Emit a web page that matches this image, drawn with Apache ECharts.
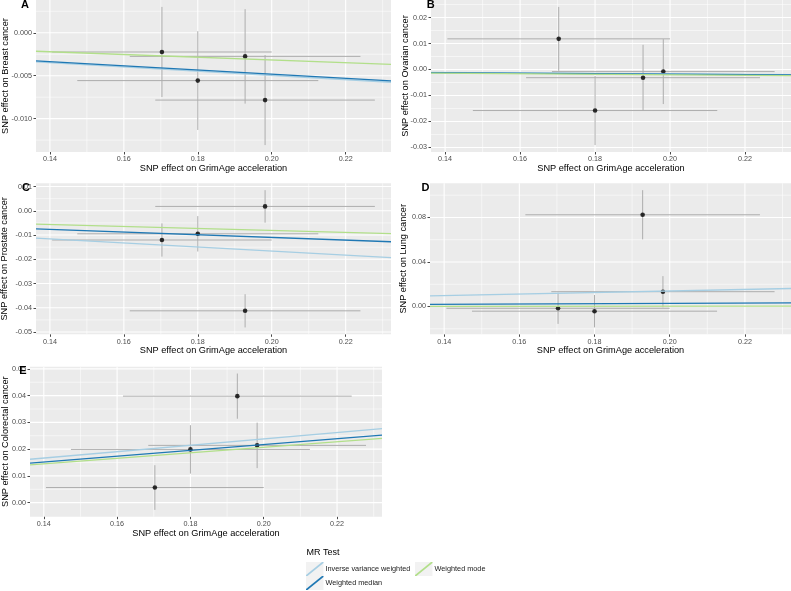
<!DOCTYPE html>
<html><head><meta charset="utf-8">
<script src="https://cdn.jsdelivr.net/npm/echarts@6/dist/echarts.min.js"></script>
<style>html,body{margin:0;padding:0;background:#fff}#c{width:791px;height:591px}</style>
</head><body><div id="c"></div>
<script>
// ---- data ----
const methods = ['Inverse variance weighted', 'Weighted median', 'Weighted mode'];
const snpGrimAge = [0.1703, 0.1800, 0.1928, 0.1982];
const snpGrimAgeSe = [0.0297, 0.0326, 0.0312, 0.0297];

const breastBeta = [-0.00224, -0.00557, -0.00275, -0.00784];
const breastSe = [0.00525, 0.00575, 0.00550, 0.00524];
const breastSlopes = [-0.0248, -0.0241, -0.0158];

const ovarianBeta = [0.0118, -0.0158, -0.00315, -0.0008];
const ovarianSe = [0.0123, 0.0133, 0.01265, 0.0125];
const ovarianSlopes = [-0.0085, -0.0090, -0.0100];

const prostateBeta = [-0.01205, -0.0095, -0.04125, 0.0018];
const prostateSe = [0.00685, 0.0073, 0.00685, 0.0067];
const prostateSlopes = [-0.083, -0.055, -0.0405];

const lungBeta = [-0.0016, -0.0042, 0.0824, 0.0133];
const lungSe = [0.0140, 0.0146, 0.0221, 0.0140];
const lungSlopes = [0.0697, 0.0137, 0.0012];

const colorectalBeta = [0.00565, 0.0199, 0.0398, 0.0214];
const colorectalSe = [0.00835, 0.00905, 0.00845, 0.0085];
const colorectalSlopes = [0.119, 0.1085, 0.1035];

// tick labels
const xTicks = [0.14, 0.16, 0.18, 0.20, 0.22];
const xMinor = [0.15, 0.17, 0.19, 0.21, 0.23];
const breastTicks = [-0.010, -0.005, 0.000];
const breastMinor = [-0.0125, -0.0075, -0.0025, 0.0025];
const ovarianTicks = [-0.03, -0.02, -0.01, 0.00, 0.01, 0.02];
const ovarianMinor = [-0.025, -0.015, -0.005, 0.005, 0.015, 0.025];
const prostateTicks = [-0.05, -0.04, -0.03, -0.02, -0.01, 0.00, 0.01];
const prostateMinor = [-0.045, -0.035, -0.025, -0.015, -0.005, 0.005];
const lungTicks = [0.00, 0.04, 0.08];
const lungMinor = [-0.02, 0.02, 0.06, 0.10];
const colorectalTicks = [0.00, 0.01, 0.02, 0.03, 0.04, 0.05];
const colorectalMinor = [0.005, 0.015, 0.025, 0.035, 0.045];

// ---- styles / layout ----
const methodColors = ['#a6cee3', '#1f78b4', '#b2df8a'];
const FONT = 'Liberation Sans, Arial, Helvetica, sans-serif';
const panels = [
  {label:'A', outcome:'Breast cancer', beta:breastBeta, se:breastSe, slopes:breastSlopes, ticks:breastTicks, minor:breastMinor, dec:3},
  {label:'B', outcome:'Ovarian cancer', beta:ovarianBeta, se:ovarianSe, slopes:ovarianSlopes, ticks:ovarianTicks, minor:ovarianMinor, dec:2},
  {label:'C', outcome:'Prostate cancer', beta:prostateBeta, se:prostateSe, slopes:prostateSlopes, ticks:prostateTicks, minor:prostateMinor, dec:2},
  {label:'D', outcome:'Lung cancer', beta:lungBeta, se:lungSe, slopes:lungSlopes, ticks:lungTicks, minor:lungMinor, dec:2},
  {label:'E', outcome:'Colorectal cancer', beta:colorectalBeta, se:colorectalSe, slopes:colorectalSlopes, ticks:colorectalTicks, minor:colorectalMinor, dec:2}
];
const layout = [
  {left:36, top:0, width:355, height:152, nameGap:26, lx:25, ly:5.3},
  {left:431, top:0, width:360, height:152, nameGap:21.5, lx:430.7, ly:4.5},
  {left:36, top:183.3, width:355, height:151, nameGap:27, lx:26, ly:188},
  {left:430, top:183.3, width:361, height:151, nameGap:22, lx:425.5, ly:187.5},
  {left:30, top:366.7, width:352, height:150, nameGap:20, lx:23, ly:370.8}
];

function expandRange(lo, hi) {
  const mn = Math.min.apply(null, lo), mx = Math.max.apply(null, hi);
  const pad = (mx - mn) * 0.05;
  return [mn - pad, mx + pad];
}

function errRender(params, api) {
  const x = api.value(0), y = api.value(1), xs = api.value(2), ys = api.value(3);
  const v1 = api.coord([x, y - ys]), v2 = api.coord([x, y + ys]);
  const h1 = api.coord([x - xs, y]), h2 = api.coord([x + xs, y]);
  const style = {stroke:'#ADADAD', lineWidth:1};
  return {type:'group', children:[
    {type:'line', shape:{x1:v1[0], y1:v1[1], x2:v2[0], y2:v2[1]}, style:style},
    {type:'line', shape:{x1:h1[0], y1:h1[1], x2:h2[0], y2:h2[1]}, style:style}
  ]};
}

// gridline segments (broken with empty points)
function gridSegments(xVals, yVals, xr, yr) {
  const d = [];
  yVals.forEach(t => { d.push([xr[0], t], [xr[1], t], ['-', '-']); });
  xVals.forEach(t => { d.push([t, yr[0]], [t, yr[1]], ['-', '-']); });
  return d;
}

const grids = [], xAxes = [], yAxes = [], series = [], graphics = [];
const xr = expandRange(snpGrimAge.map((v,k)=>v - snpGrimAgeSe[k]), snpGrimAge.map((v,k)=>v + snpGrimAgeSe[k]));

panels.forEach((p, i) => {
  const L = layout[i];
  const yr = expandRange(p.beta.map((v,k)=>v - p.se[k]), p.beta.map((v,k)=>v + p.se[k]));
  grids.push({left:L.left, top:L.top, width:L.width, height:L.height, show:true,
    backgroundColor:'#EBEBEB', borderWidth:0, containLabel:false, outerBoundsMode:'none'});
  const common = {
    type:'value', gridIndex:i, nameLocation:'middle', nameMoveOverlap:false,
    nameTextStyle:{fontFamily:FONT, fontSize:9.2, color:'#000'},
    axisLine:{show:false, onZero:false},
    splitLine:{show:false}
  };
  xAxes.push(Object.assign({}, common, {
    min:xr[0], max:xr[1], name:'SNP effect on GrimAge acceleration', nameGap:12,
    axisTick:{show:true, length:2.5, customValues:xTicks, lineStyle:{color:'#333333', width:0.9}},
    axisLabel:{customValues:xTicks, formatter:v=>v.toFixed(2), color:'#4D4D4D', fontSize:7.2, fontFamily:FONT, margin:4}
  }));
  yAxes.push(Object.assign({}, common, {
    min:yr[0], max:yr[1], name:'SNP effect on ' + p.outcome, nameGap:L.nameGap,
    axisTick:{show:true, length:2.5, customValues:p.ticks, lineStyle:{color:'#333333', width:0.9}},
    axisLabel:{customValues:p.ticks, formatter:v=>v.toFixed(p.dec), color:'#4D4D4D', fontSize:7.2, fontFamily:FONT, margin:4}
  }));
  series.push({type:'line', xAxisIndex:i, yAxisIndex:i, silent:true, showSymbol:false, symbol:'none', connectNulls:false, z:1,
    lineStyle:{color:'#FFFFFF', width:0.55}, data:gridSegments(xMinor, p.minor, xr, yr)});
  series.push({type:'line', xAxisIndex:i, yAxisIndex:i, silent:true, showSymbol:false, symbol:'none', connectNulls:false, z:1,
    lineStyle:{color:'#FFFFFF', width:1.1}, data:gridSegments(xTicks, p.ticks, xr, yr)});
  series.push({type:'custom', xAxisIndex:i, yAxisIndex:i, renderItem:errRender, silent:true, z:2,
    data:snpGrimAge.map((x,k)=>[x, p.beta[k], snpGrimAgeSe[k], p.se[k]])});
  series.push({type:'scatter', xAxisIndex:i, yAxisIndex:i, symbolSize:4.6, itemStyle:{color:'#000'}, z:3,
    data:snpGrimAge.map((x,k)=>[x, p.beta[k]])});
  p.slopes.forEach((b, m) => {
    series.push({type:'line', name:methods[m], xAxisIndex:i, yAxisIndex:i, showSymbol:false, symbol:'none', z:4,
      color:methodColors[m], itemStyle:{color:methodColors[m]}, lineStyle:{color:methodColors[m], width:1.3},
      data:[[xr[0], b * xr[0]], [xr[1], b * xr[1]]]});
  });
  graphics.push({type:'text', z:100, style:{text:p.label, x:L.lx, y:L.ly, textAlign:'center', textVerticalAlign:'middle',
    fontFamily:FONT, fontWeight:'bold', fontSize:11, fill:'#000'}});
});

// legend title and key backgrounds
graphics.push({type:'text', z:100, style:{text:'MR Test', x:306.5, y:553, textAlign:'left', textVerticalAlign:'middle',
  fontFamily:FONT, fontSize:9, fill:'#000'}});
[[306, 562], [306, 576], [415, 562]].forEach(pt => {
  graphics.push({type:'rect', z:0, shape:{x:pt[0], y:pt[1], width:17.5, height:14}, style:{fill:'#F2F2F2'}});
});

const keyIcon = 'path://M0,13.1 L16,0 L17.5,0 L17.5,0.9 L1.5,14 L0,14 Z';
const legendCommon = {orient:'vertical', itemGap:0, itemWidth:17.5, itemHeight:14, icon:keyIcon, padding:0, z:10,
  itemStyle:{borderWidth:0}, selectedMode:false,
  textStyle:{fontFamily:FONT, fontSize:7.3, color:'#1A1A1A', padding:[0,0,0,-3]}};

const option = {
  animation:false,
  backgroundColor:'#FFFFFF',
  grid:grids, xAxis:xAxes, yAxis:yAxes, series:series,
  legend:[
    Object.assign({}, legendCommon, {left:306, top:562, data:[methods[0], methods[1]]}),
    Object.assign({}, legendCommon, {left:415, top:562, data:[methods[2]]})
  ],
  graphic:graphics
};
const chart = echarts.init(document.getElementById('c'), null, {renderer:'canvas'});
chart.setOption(option);
</script></body></html>
